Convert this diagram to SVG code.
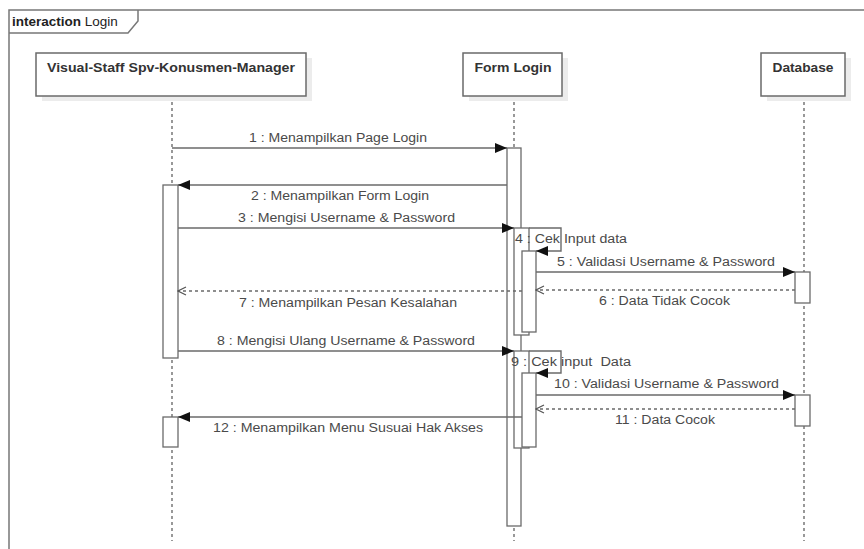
<svg xmlns="http://www.w3.org/2000/svg" width="864" height="549" viewBox="0 0 864 549">
<style>
.frame{fill:none;stroke:#777;stroke-width:1.5}
.box{fill:#fff;stroke:#6a6a6a;stroke-width:1.5}
.shadow{fill:#ececec}
.life{stroke:#555;stroke-width:1.2;stroke-dasharray:3,3;fill:none}
.bar{fill:#fff;stroke:#6a6a6a;stroke-width:1.3}
.msg{stroke:#6a6a6a;stroke-width:1.4;fill:none}
.ret{stroke:#6a6a6a;stroke-width:1.4;fill:none;stroke-dasharray:3,3}
.hdr{font-family:"Liberation Sans",Arial,sans-serif;font-size:13px;font-weight:bold;fill:#333}
.lbl{font-family:"Liberation Sans",Arial,sans-serif;font-size:12px;fill:#4a4a4a}
.tab{font-family:"Liberation Sans",Arial,sans-serif;font-size:13.5px;fill:#222}
</style>
<defs>
<marker id="fill" markerWidth="12" markerHeight="10" refX="12" refY="5" orient="auto" markerUnits="userSpaceOnUse">
<path d="M0,0 L12,5 L0,10 Z" fill="#111"/>
</marker>
<marker id="open" markerWidth="10" markerHeight="10" refX="9" refY="5" orient="auto" markerUnits="userSpaceOnUse">
<path d="M1,1 L9,5 L1,9" fill="none" stroke="#555" stroke-width="1.2"/>
</marker>
</defs>
<rect width="864" height="549" fill="#fff"/>
<g id="frame">
<path class="frame" d="M9,549 L9,10 L864,10"/>
<path class="frame" d="M9,33 L128,33 L138,21 L138,10"/>
<text x="12" y="26" class="tab"><tspan font-weight="bold">interaction</tspan> Login</text>
</g>
<g id="lifelines">
<line class="life" x1="172" y1="96" x2="172" y2="541"/>
<line class="life" x1="514" y1="96" x2="514" y2="541"/>
<line class="life" x1="804" y1="96" x2="804" y2="541"/>
</g>
<g id="node-visual-staff">
<rect class="shadow" x="42" y="58" width="270" height="43"/>
<rect class="box" x="36" y="53" width="270" height="43"/>
<text class="hdr" x="171" y="72" text-anchor="middle" textLength="248" lengthAdjust="spacingAndGlyphs">Visual-Staff Spv-Konusmen-Manager</text>
</g>
<g id="node-form-login">
<rect class="shadow" x="469" y="58" width="99" height="43"/>
<rect class="box" x="463" y="53" width="99" height="43"/>
<text class="hdr" x="513" y="72" text-anchor="middle" textLength="77" lengthAdjust="spacingAndGlyphs">Form Login</text>
</g>
<g id="node-database">
<rect class="shadow" x="767" y="58" width="84" height="43"/>
<rect class="box" x="761" y="53" width="84" height="43"/>
<text class="hdr" x="803" y="72" text-anchor="middle" textLength="61" lengthAdjust="spacingAndGlyphs">Database</text>
</g>
<g id="activations">
<rect class="bar" x="163" y="185" width="15" height="173"/>
<rect class="bar" x="163" y="417" width="15" height="30"/>
<rect class="bar" x="507" y="148" width="14" height="378"/>
<rect class="bar" x="514" y="228" width="15" height="107"/>
<rect class="bar" x="522" y="251" width="14" height="81"/>
<rect class="bar" x="514" y="351" width="15" height="97"/>
<rect class="bar" x="522" y="373" width="14" height="74"/>
<rect class="bar" x="795" y="272" width="15" height="31"/>
<rect class="bar" x="795" y="395" width="15" height="31"/>
</g>
<g id="connectors">
<line class="msg" x1="172" y1="148" x2="507" y2="148" marker-end="url(#fill)"/>
<line class="msg" x1="507" y1="185" x2="178" y2="185" marker-end="url(#fill)"/>
<line class="msg" x1="178" y1="228" x2="514" y2="228" marker-end="url(#fill)"/>
<path class="msg" d="M529,228 L561,228 L561,251 L536,251" marker-end="url(#fill)"/>
<line class="msg" x1="536" y1="272" x2="795" y2="272" marker-end="url(#fill)"/>
<line class="ret" x1="795" y1="290" x2="536" y2="290" marker-end="url(#open)"/>
<line class="ret" x1="522" y1="291" x2="178" y2="291" marker-end="url(#open)"/>
<line class="msg" x1="178" y1="351" x2="514" y2="351" marker-end="url(#fill)"/>
<path class="msg" d="M529,351 L561,351 L561,373 L536,373" marker-end="url(#fill)"/>
<line class="msg" x1="536" y1="395" x2="795" y2="395" marker-end="url(#fill)"/>
<line class="ret" x1="795" y1="409" x2="536" y2="409" marker-end="url(#open)"/>
<line class="msg" x1="522" y1="417" x2="178" y2="417" marker-end="url(#fill)"/>
</g>
<g id="labels">
<text class="lbl" x="249" y="142" textLength="178" lengthAdjust="spacingAndGlyphs">1 : Menampilkan Page Login</text>
<text class="lbl" x="251" y="200" textLength="178" lengthAdjust="spacingAndGlyphs">2 : Menampilkan Form Login</text>
<text class="lbl" x="238" y="222" textLength="217" lengthAdjust="spacingAndGlyphs">3 : Mengisi Username &amp; Password</text>
<text class="lbl" x="515" y="243" textLength="112" lengthAdjust="spacingAndGlyphs">4 : Cek Input data</text>
<text class="lbl" x="557" y="266" textLength="218" lengthAdjust="spacingAndGlyphs">5 : Validasi Username &amp; Password</text>
<text class="lbl" x="599" y="305" textLength="131" lengthAdjust="spacingAndGlyphs">6 : Data Tidak Cocok</text>
<text class="lbl" x="239" y="307" textLength="218" lengthAdjust="spacingAndGlyphs">7 : Menampilkan Pesan Kesalahan</text>
<text class="lbl" x="217" y="345" textLength="258" lengthAdjust="spacingAndGlyphs">8 : Mengisi Ulang Username &amp; Password</text>
<text class="lbl" x="511" y="366" textLength="120" lengthAdjust="spacingAndGlyphs" xml:space="preserve">9 : Cek input  Data</text>
<text class="lbl" x="554" y="388" textLength="225" lengthAdjust="spacingAndGlyphs">10 : Validasi Username &amp; Password</text>
<text class="lbl" x="615" y="424" textLength="100" lengthAdjust="spacingAndGlyphs">11 : Data Cocok</text>
<text class="lbl" x="213" y="432" textLength="270" lengthAdjust="spacingAndGlyphs">12 : Menampilkan Menu Susuai Hak Akses</text>
</g>
</svg>
